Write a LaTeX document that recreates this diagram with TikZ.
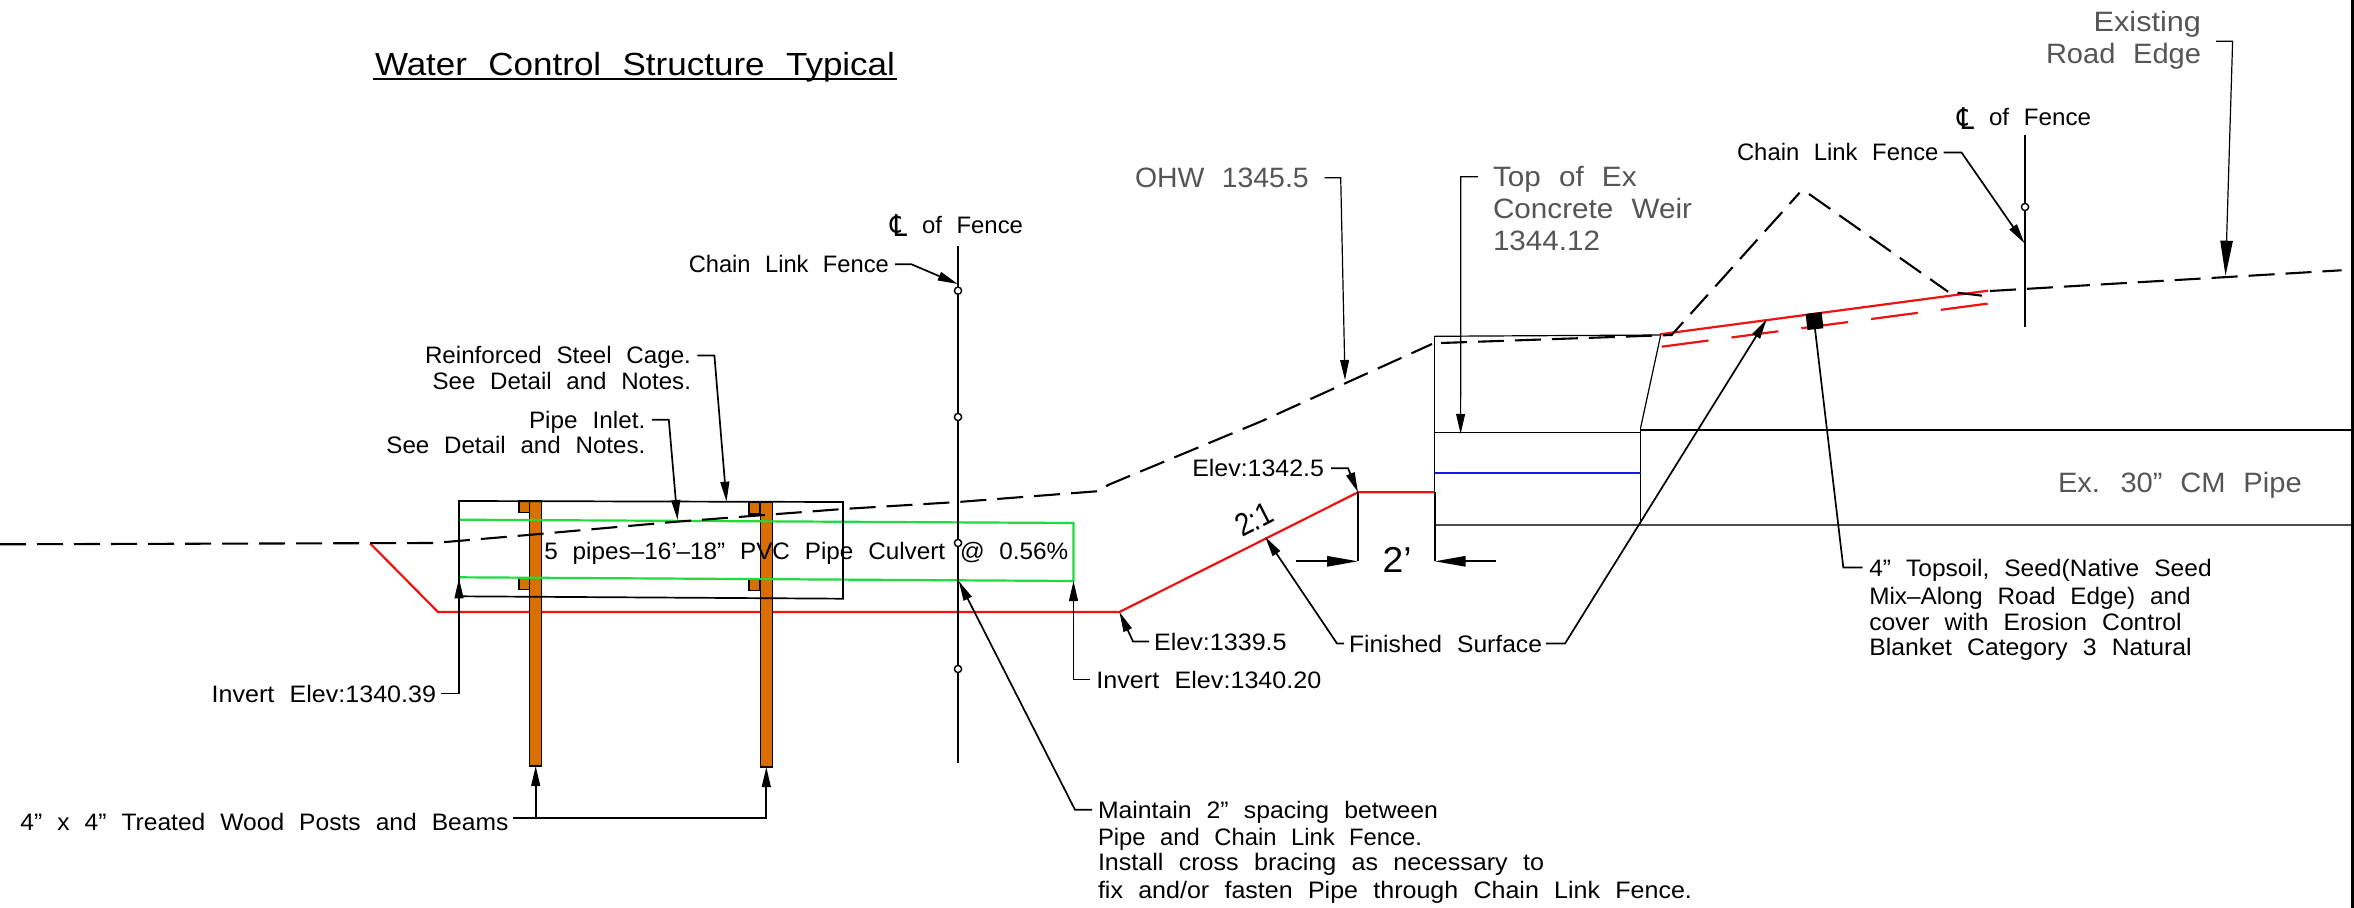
\documentclass[tikz,border=0pt]{standalone}
\usepackage{fontspec}
\usepackage{graphicx}
\usetikzlibrary{arrows.meta}
\setmainfont{Liberation Sans}[WordSpace=2.2]
\newfontfamily\clfont{DejaVu Sans}
\newsavebox\fitbox
\newcommand{\fitw}[2]{\sbox\fitbox{#2}\pgfmathsetmacro\fitsx{#1*0.5/\the\wd\fitbox}\scalebox{\fitsx}[1]{\usebox\fitbox}}
\definecolor{postorange}{HTML}{D96F00}
\definecolor{pipegreen}{HTML}{1FDC3C}
\definecolor{soilred}{HTML}{F01212}
\definecolor{waterblue}{HTML}{1818E0}
\definecolor{exgray}{HTML}{555555}
\tikzset{
  lab/.style={inner sep=0pt,outer sep=0pt,text depth=0pt,text height=8.5pt,font=\fontsize{11.9}{14}\selectfont,text=black},
  glab/.style={lab,text height=10pt,font=\fontsize{14}{17}\selectfont,text=exgray},
  tlab/.style={lab,text height=11.5pt,font=\fontsize{16}{19}\selectfont},
  blab/.style={lab,text height=13pt,font=\fontsize{18}{21}\selectfont},
  cllab/.style={lab,font=\clfont\fontsize{15}{17}\selectfont},
  ld/.style={draw=black,line width=0.85pt,line join=miter},
  gld/.style={draw=black,line width=0.6pt},
  tip/.style={-{Triangle[length=10pt,width=4.4pt]}},
  bigtip/.style={-{Triangle[length=15.5pt,width=5.2pt]}},
  roadtip/.style={-{Triangle[length=17.5pt,width=6.2pt]}},
  ground/.style={draw=black,line width=1.05pt,dash pattern=on 13pt off 5.5pt},
  redl/.style={draw=soilred,line width=1.1pt,line join=miter},
  greenl/.style={draw=pipegreen,line width=1.1pt},
  thinl/.style={draw=black,line width=0.6pt},
  post/.style={draw=black,fill=postorange,line width=0.7pt,inner sep=0pt,outer sep=0pt,minimum width=6pt,minimum height=132.5pt},
  blockp/.style={draw=black,fill=postorange,line width=0.7pt},
  fence/.style={draw=black,line width=1pt},
  ring/.style={circle,draw=black,fill=white,line width=0.7pt,inner sep=0pt,minimum size=3.6pt},
  x=0.5pt,y=-0.5pt
}
\newcommand{\lab}[7][lab]{\node[#1,anchor=base #3] (#2) at (#4,#5) {\fitw{#6}{#7}};}
\begin{document}
\begin{tikzpicture}
\useasboundingbox (0,0) rectangle (2354,908);
\fill[white] (0,0) rectangle (2354,908);
\fill[black] (2350.5,0) rectangle (2354,908);

% named points
\coordinate (tipReinf) at (726.5,501.7);
\coordinate (tipInlet) at (677.5,520);
\coordinate (tipInv39) at (459,578.3);
\coordinate (tipInv20) at (1073.5,581);
\coordinate (tipMaint) at (958.7,581);
\coordinate (tipChainA) at (957.7,284);
\coordinate (tipChainB) at (2024.5,243.3);
\coordinate (tip1339) at (1119.4,612);
\coordinate (tip1342) at (1358,492.3);
\coordinate (tipFinA) at (1265.3,537);
\coordinate (tipFinB) at (1766.7,319.3);
\coordinate (tipOHW) at (1345,380);
\coordinate (tipWeir) at (1460.6,434);
\coordinate (tipRoad) at (2225.5,275.7);
\coordinate (blkFoot) at (1815,329);
\coordinate (trStart) at (513.4,818.3);

% structure
\draw[thinl] (1434.7,336.3) -- (1660.7,335);
\draw[thinl] (1434.7,336.3) -- (1434.7,525);
\draw[thinl] (1434.7,432.7) -- (1640.5,432.7);
\draw[thinl] (1640.5,428.3) -- (1640.5,525);
\draw[thinl] (1640.5,428.3) -- (1660.7,335);
\draw[thinl] (1640.5,430) -- (2351,430);
\draw[draw=black!70,line width=0.7pt] (1434.7,525) -- (2351,525);
\draw[draw=waterblue,line width=1.1pt] (1434.7,473.3) -- (1640.5,473.3);

% finished surface
\draw[redl] (370,543.3) -- (438,612) -- (1119.4,612) -- (1358,492.3) -- (1434.7,492.3);
\draw[redl] (1660,334.3) -- (1988,290.7);
\draw[redl,dash pattern=on 23.6pt off 11.6pt] (1661.7,346.7) -- (1990,303.3);

% posts and blocks
\draw[blockp] (519,501) rectangle (530,512.3);
\draw[blockp] (519,578.3) rectangle (530,589.3);
\draw[blockp] (749,502.7) rectangle (760,514);
\draw[blockp] (749,579.3) rectangle (760,590.7);
\node[post] (postA) at (535.7,633.5) {};
\node[post] (postB) at (766.3,634.5) {};

% pipes
\draw[greenl] (459,519.7) -- (1073.5,523) -- (1073.5,581) -- (459,577.3);

% cage
\draw[ld] (459,501) -- (843,502) -- (843,598.7) -- (459,596.3) -- cycle;

% ground
\draw[ground] (0,544.3) -- (434,543) -- (528,535) -- (673,522) -- (843,509) -- (958,502) -- (1100.5,491) -- (1108,485) -- (1262,421) -- (1432,344);
\draw[ground] (1441,343) -- (1671.6,335) -- (1799.6,192.7);
\draw[ground] (1809,194) -- (1948,291.7);
\draw[draw=black,line width=1.05pt] (1957.5,292.7) -- (1982,295.7);
\draw[ground] (1990,291) -- (2341.5,270.3);

% fences
\coordinate (fenceAtop) at (958,245.7);
\coordinate (fenceAbot) at (958,762.7);
\coordinate (fenceBtop) at (2025,135);
\coordinate (fenceBbot) at (2025,327);
\draw[fence] (fenceAtop) -- (fenceAbot);
\draw[fence] (fenceBtop) -- (fenceBbot);
\node[ring] (rA1) at (958,290.7) {};
\node[ring] (rA2) at (958,417) {};
\node[ring] (rA3) at (958,543) {};
\node[ring] (rA4) at (958,669) {};
\node[ring] (rB1) at (2025,207) {};

% topsoil block
\fill[black] (1805.7,314) -- (1821.7,312) -- (1823.3,328.3) -- (1807.3,330) -- cycle;

% labels
\lab[tlab]{title}{west}{375}{76}{520}{Water Control Structure Typical}
\draw[draw=black,line width=1pt] (373,79) -- (897,79);
\lab{reinf}{east}{691}{364}{266}{Reinforced Steel Cage.}
\lab{reinfB}{east}{691}{390}{258.4}{See Detail and Notes.}
\lab{inlet}{east}{645.4}{428.3}{116.4}{Pipe Inlet.}
\lab{inletB}{east}{645.4}{454}{259}{See Detail and Notes.}
\lab{pipes}{west}{544.4}{559.3}{524}{5 pipes–16’–18” PVC Pipe Culvert @ 0.56\%}
\lab{inv39}{west}{211.7}{702}{224.3}{Invert Elev:1340.39}
\lab{treated}{west}{20.4}{830}{488}{4” x 4” Treated Wood Posts and Beams}
\node[cllab,anchor=base west] (clA) at (890.3,237) {\fitw{17}{℄}};
\lab{ofA}{west}{922}{233.3}{101}{of Fence}
\lab{chainA}{east}{888.8}{272.7}{200}{Chain Link Fence}
\lab{el1342}{west}{1192.3}{476.7}{131.7}{Elev:1342.5}
\lab{el1339}{west}{1154}{650}{132.7}{Elev:1339.5}
\lab{inv20}{west}{1096.4}{688}{225}{Invert Elev:1340.20}
\lab{fin}{west}{1349}{652}{193}{Finished Surface}
\lab[glab]{ohw}{west}{1135}{187.7}{173.7}{OHW 1345.5}
\lab[glab]{weirA}{west}{1493}{186.7}{143.6}{Top of Ex}
\lab[glab]{weirB}{west}{1493}{218.3}{199}{Concrete Weir}
\lab[glab]{weirC}{west}{1493}{251}{107}{1344.12}
\lab{chainB}{west}{1737}{161}{201.5}{Chain Link Fence}
\node[cllab,anchor=base west] (clB) at (1957.5,129.7) {\fitw{17}{℄}};
\lab{ofB}{west}{1989}{126}{102}{of Fence}
\lab[glab]{exist}{east}{2201}{31.7}{107.3}{Existing}
\lab[glab]{road}{east}{2201}{64}{155}{Road Edge}
\lab[glab]{cmp}{west}{2058}{493}{243.7}{Ex. 30” CM Pipe}
\lab{soilA}{west}{1869.3}{576}{342.4}{4” Topsoil, Seed(Native Seed}
\lab{soilB}{west}{1869.3}{604.3}{321.4}{Mix–Along Road Edge) and}
\lab{soilC}{west}{1869.3}{630}{312.4}{cover with Erosion Control}
\lab{soilD}{west}{1869.3}{655}{322.4}{Blanket Category 3 Natural}
\lab{mainA}{west}{1098}{818.3}{340}{Maintain 2” spacing between}
\lab{mainB}{west}{1098}{845}{324}{Pipe and Chain Link Fence.}
\lab{mainC}{west}{1098}{870.7}{446}{Install cross bracing as necessary to}
\lab{mainD}{west}{1098}{898.3}{594}{fix and/or fasten Pipe through Chain Link Fence.}
\node[tlab,anchor=base west,rotate=27] (slope) at (1242,538) {\fitw{38}{2:1}};
\lab[blab]{dimTwo}{west}{1382.6}{572.7}{29}{2’}

% leaders
\draw[ld,tip] ([xshift=3.2pt]reinf.east) -- ++(17,0) -- (tipReinf);
\draw[ld,tip] ([xshift=3.2pt]inlet.east) -- ++(17,0) -- (tipInlet);
\draw[ld,tip] ([xshift=2.5pt]inv39.east) -- (tipInv39 |- inv39.east) -- (tipInv39);
\draw[ld,tip] ([xshift=3.2pt]chainA.east) -- ++(16,0) -- (tipChainA);
\draw[ld,tip] ([xshift=2.5pt]chainB.east) -- ++(18,0) -- (tipChainB);
\draw[ld,tip] ([xshift=-2.5pt]el1339.west) -- ++(-16,0) -- (tip1339);
\draw[ld,tip] ([xshift=3.5pt]el1342.east) -- ++(17,0) -- (tip1342);
\draw[ld,tip] ([xshift=-3pt]inv20.west) -- (tipInv20 |- inv20.west) -- (tipInv20);
\draw[ld,tip] ([xshift=-2.5pt]fin.west) -- ++(-7,0) -- (tipFinA);
\draw[ld,tip] ([xshift=2pt]fin.east) -- ++(19,0) -- (tipFinB);
\draw[ld,tip] ([xshift=-3pt]mainA.west) -- ++(-17,0) -- (tipMaint);
\draw[ld] ([xshift=-3.3pt]soilA.west) -- ++(-19.4,0) -- (blkFoot);
\draw[ld,tip] (trStart) -- (postB.south |- trStart) -- (postB.south);
\draw[ld,tip] (postA.south |- trStart) -- (postA.south);
\draw[gld,tip] ([xshift=8pt]ohw.east) -- ++(16,0) -- (tipOHW);
\draw[gld,tip] ([xshift=-7.5pt]weirA.west) -- ++(-17.2,0) -- (tipWeir);
\coordinate (roadFrom) at (2216,41.3);
\draw[gld,roadtip] (roadFrom) -- (2232.6,41.3) -- (tipRoad);

% dimension
\coordinate (dimL) at (1358,561.3);
\coordinate (dimR) at (1434.7,561.3);
\draw[ld] (tip1342) -- (dimL);
\draw[ld] (1434.7,492.3) -- (dimR);
\draw[ld,bigtip] (1296,561.3) -- (dimL);
\draw[ld,bigtip] (1496,561.3) -- (dimR);
\end{tikzpicture}
\end{document}
